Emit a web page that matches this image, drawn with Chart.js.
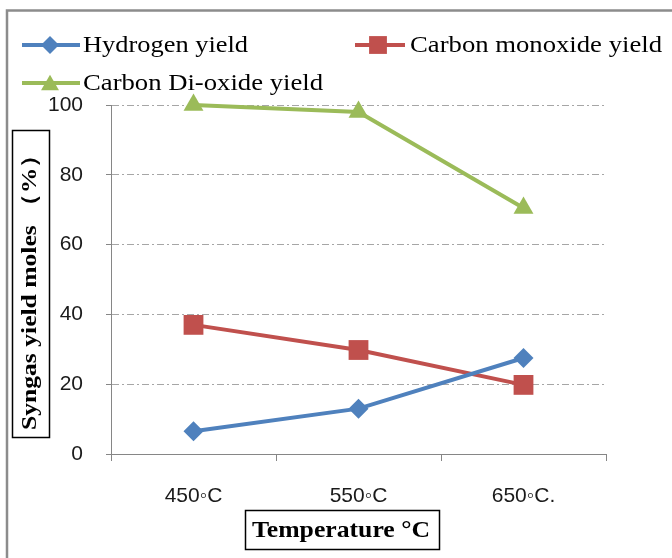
<!DOCTYPE html>
<html><head><meta charset="utf-8">
<script src="https://cdn.jsdelivr.net/npm/chart.js@4"></script>
<style>html,body{margin:0;padding:0;background:#fff;}#wrap{position:relative;width:672px;height:558px;}</style>
</head><body><div id="wrap"><canvas id="c" width="672" height="558"></canvas></div>
<script>
const categories = ['450◦C', '550◦C', '650◦C.'];
const hydrogenYield = [6.5, 13, 27.5];
const carbonMonoxideYield = [37, 29.8, 19.8];
const carbonDioxideYield = [100, 98, 70.5];
const seriesNames = ['Hydrogen yield', 'Carbon monoxide yield', 'Carbon Di-oxide yield'];
const yTicks = [0, 20, 40, 60, 80, 100];
const yTitle = 'Syngas yield moles （%）';
const xTitle = 'Temperature °C';

const colors = ['#4F81BD', '#C0504D', '#9BBB59'];
const styles = ['rectRot', 'rect', 'triangle'];
const radii = [10, 14, 11.5];

function fitText(ctx, text, x, y, w) {
  const m = ctx.measureText(text).width;
  ctx.save();
  ctx.translate(x, y);
  ctx.scale(w / m, 1);
  ctx.textAlign = 'left';
  ctx.fillText(text, 0, 0);
  ctx.restore();
}

const decor = {
  id: 'decor',
  afterDraw(chart) {
    const ctx = chart.ctx;
    ctx.save();
    ctx.strokeStyle = '#8C8C8C';
    ctx.lineWidth = 2.5;
    ctx.beginPath();
    ctx.moveTo(7, 558); ctx.lineTo(7, 10.5); ctx.lineTo(672, 10.5);
    ctx.stroke();

    const items = [
      {x0: 22, x1: 80, mx: 50, y: 45, tx: 83, tw: 165},
      {x0: 355, x1: 405, mx: 378, y: 45, tx: 410, tw: 252},
      {x0: 22, x1: 80, mx: 50, y: 83, tx: 83, tw: 240}
    ];
    chart.data.datasets.forEach((ds, i) => {
      const it = items[i];
      ctx.strokeStyle = ds.borderColor;
      ctx.lineWidth = 4;
      ctx.beginPath(); ctx.moveTo(it.x0, it.y); ctx.lineTo(it.x1, it.y); ctx.stroke();
      ctx.fillStyle = ds.pointBackgroundColor;
      ctx.strokeStyle = ds.pointBackgroundColor;
      Chart.helpers.drawPoint(ctx, {pointStyle: ds.pointStyle, radius: ds.pointRadius * 0.9, rotation: 0, borderWidth: 0}, it.mx, it.y + (ds.pointStyle === 'triangle' ? 2 : 0));
      ctx.fillStyle = '#000';
      ctx.font = '23px "Liberation Serif"';
      ctx.textBaseline = 'middle';
      fitText(ctx, ds.label, it.tx, it.y + 1, it.tw);
    });

    ctx.strokeStyle = '#000';
    ctx.lineWidth = 1.5;
    ctx.strokeRect(12.5, 130.5, 37, 307);
    ctx.save();
    ctx.translate(31, 430);
    ctx.rotate(-Math.PI / 2);
    ctx.fillStyle = '#000';
    ctx.font = 'bold 21px "Liberation Serif"';
    ctx.textBaseline = 'middle';
    fitText(ctx, yTitle, 0, 0, 288);
    ctx.restore();

    ctx.strokeRect(245.5, 510.5, 194, 39);
    ctx.fillStyle = '#000';
    ctx.font = 'bold 23px "Liberation Serif"';
    ctx.textBaseline = 'middle';
    fitText(ctx, xTitle, 252, 531, 178);
    ctx.restore();
  }
};

new Chart(document.getElementById('c'), {
  type: 'line',
  data: {
    labels: categories,
    datasets: [hydrogenYield, carbonMonoxideYield, carbonDioxideYield].map((d, i) => ({
      label: seriesNames[i],
      data: d,
      borderColor: colors[i],
      backgroundColor: colors[i],
      pointBackgroundColor: colors[i],
      pointBorderColor: colors[i],
      pointBorderWidth: 0,
      pointStyle: styles[i],
      pointRadius: radii[i],
      borderWidth: 4,
      tension: 0,
      fill: false,
      clip: false
    }))
  },
  options: {
    responsive: false,
    animation: false,
    devicePixelRatio: 1,
    layout: {padding: {top: 105, right: 66, left: 0, bottom: 0}},
    plugins: {legend: {display: false}, tooltip: {enabled: false}},
    scales: {
      x: {
        type: 'category',
        offset: true,
        afterFit(s) { s.height = 104; },
        grid: {display: true, drawOnChartArea: false, drawTicks: true, tickLength: 7, offset: true, tickColor: '#868686', color: '#868686'},
        border: {display: true, color: '#868686', width: 1},
        ticks: {color: '#1a1a1a', font: {family: '"Liberation Sans"', size: 21}, padding: 23, maxRotation: 0}
      },
      y: {
        min: 0, max: 100,
        afterFit(s) { s.width = 111; },
        afterBuildTicks(s) { s.ticks = yTicks.map(v => ({value: v})); },
        grid: {
          color: c => (c.tick && c.tick.value === 0) ? 'rgba(0,0,0,0)' : '#A6A6A6',
          tickColor: '#868686', tickLength: 5, drawTicks: true, lineWidth: 1
        },
        border: {display: true, color: '#868686', width: 1, dash: [7, 3, 2, 3]},
        ticks: {color: '#1a1a1a', font: {family: '"Liberation Sans"', size: 21}, padding: 23}
      }
    }
  },
  plugins: [decor]
});
</script></body></html>
